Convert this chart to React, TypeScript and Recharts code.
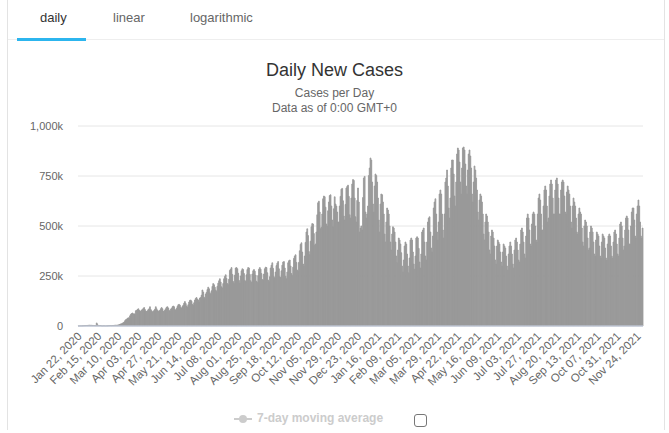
import { BarChart, Bar, XAxis, YAxis, CartesianGrid } from 'recharts'

// daily new cases in thousands, Jan 22 2020 - Dec 31 2020 (one row per week, starting Wednesday)
const cases2020 = [
  0.6, 0.3, 0.7, 0.6, 0.7, 0.8, 1.3,
  1.8, 1.8, 2.1, 2.6, 2.8, 3.2, 3.9,
  3.7, 3.2, 3.4, 2.7, 2.6, 2.4, 2.0,
  2.0, 15.1, 6.5, 2.1, 2.1, 2.0, 1.9,
  0.5, 0.6, 1.0, 0.8, 0.6, 0.6, 0.9,
  1.0, 1.4, 1.6, 1.9, 2.3, 1.8, 2.5,
  2.3, 2.8, 4.0, 3.9, 3.7, 4.5, 4.7,
  7.2, 7.7, 10.5, 11.0, 13.9, 16.4, 19.8,
  26.3, 31.3, 33.6, 38.1, 40.8, 40.0, 50.7,
  58, 62, 65, 60, 61, 58, 76,
  78, 82, 86, 79, 74, 74, 80,
  82, 88, 92, 82, 74, 72, 76,
  82, 86, 96, 82, 76, 70, 74,
  78, 84, 96, 86, 78, 72, 76,
  78, 86, 92, 86, 74, 72, 80,
  86, 94, 96, 90, 78, 74, 84,
  88, 96, 100, 96, 82, 80, 88,
  98, 106, 108, 104, 92, 90, 98,
  104, 114, 122, 112, 100, 94, 106,
  120, 128, 130, 124, 108, 104, 116,
  130, 138, 142, 134, 130, 120, 140,
  142, 154, 180, 170, 144, 138, 160,
  168, 182, 194, 186, 166, 160, 176,
  198, 212, 206, 194, 180, 172, 198,
  214, 226, 236, 220, 196, 190, 212,
  236, 248, 256, 238, 212, 206, 234,
  278, 284, 292, 258, 222, 212, 254,
  290, 292, 286, 264, 228, 214, 250,
  276, 286, 282, 262, 228, 222, 256,
  282, 292, 290, 258, 226, 218, 260,
  276, 282, 274, 254, 224, 218, 252,
  284, 292, 284, 262, 232, 230, 260,
  286, 294, 292, 266, 230, 222, 246,
  290, 304, 316, 288, 246, 240, 270,
  302, 314, 322, 286, 246, 242, 276,
  304, 320, 322, 290, 248, 236, 270,
  316, 326, 330, 300, 262, 252, 294,
  338, 350, 356, 318, 280, 272, 318,
  376, 408, 416, 370, 310, 298, 350,
  418, 470, 486, 452, 372, 356, 424,
  496, 512, 510, 462, 404, 410, 470,
  556, 616, 624, 570, 486, 494, 560,
  636, 650, 646, 594, 510, 500, 576,
  620, 652, 656, 600, 530, 496, 586,
  646, 610, 600, 570, 520, 520, 600,
  648, 684, 688, 626, 550, 530, 608,
  690, 698, 704, 648, 556, 540, 640,
  710, 732, 728, 640, 546, 520, 628,
  690, 620, 470, 490, 500, 480, 642,
  740, 748,
]

// Jan 01 2021 - Nov 30 2021
const cases2021 = [
  570, 540, 560, 600, 752,
  790, 840, 830, 720, 610, 570, 700,
  760, 752, 720, 640, 530, 470, 610,
  660, 656, 620, 560, 460, 420, 520,
  590, 580, 560, 500, 420, 380, 460,
  496, 490, 470, 420, 350, 316, 380,
  440, 430, 410, 366, 300, 270, 330,
  400, 420, 410, 360, 300, 266, 340,
  430, 440, 430, 370, 310, 284, 350,
  440, 446, 440, 388, 320, 290, 360,
  470, 480, 490, 420, 350, 330, 420,
  520, 540, 546, 470, 390, 370, 450,
  590, 620, 636, 560, 470, 430, 520,
  660, 680, 660, 560, 480, 440, 560,
  720, 740, 780, 700, 590, 540, 640,
  790, 830, 830, 760, 650, 600, 720,
  860, 890, 880, 820, 720, 660, 790,
  890, 895, 880, 810, 700, 660, 780,
  860, 880, 850, 790, 660, 620, 720,
  800, 780, 740, 680, 570, 530, 630,
  660, 650, 620, 560, 460, 430, 520,
  560, 550, 520, 470, 380, 360, 450,
  480, 470, 440, 400, 330, 310, 400,
  430, 420, 410, 370, 320, 300, 370,
  410, 400, 390, 350, 300, 280, 360,
  400, 420, 400, 360, 310, 290, 380,
  430, 440, 420, 380, 330, 320, 410,
  480, 490, 470, 420, 360, 340, 450,
  540, 560, 540, 480, 410, 400, 510,
  560, 570, 560, 500, 430, 420, 560,
  640, 660, 630, 560, 480, 480, 600,
  680, 700, 680, 600, 520, 540, 650,
  710, 730, 710, 640, 560, 560, 680,
  730, 740, 710, 640, 560, 560, 680,
  720, 730, 720, 650, 570, 560, 670,
  700, 680, 660, 600, 520, 490, 600,
  640, 620, 600, 540, 470, 460, 560,
  590, 570, 560, 490, 420, 400, 500,
  530, 520, 500, 440, 380, 390, 470,
  500, 490, 470, 420, 360, 350, 430,
  470, 460, 450, 400, 350, 340, 420,
  460, 450, 440, 390, 340, 330, 410,
  450, 460, 450, 400, 350, 340, 420,
  470, 480, 460, 410, 360, 350, 440,
  510, 520, 500, 440, 380, 400, 480,
  540, 550, 540, 480, 410, 410, 500,
  570, 590, 590, 530, 450, 440, 560,
  600, 630, 600, 520, 450, 440, 490,
]

const yTicks = [0, 250, 500, 750, 1000]
const tabs = ['daily', 'linear', 'logarithmic']
const months = ['Jan', 'Feb', 'Mar', 'Apr', 'May', 'Jun', 'Jul', 'Aug', 'Sep', 'Oct', 'Nov', 'Dec']

const firstDay = Date.UTC(2020, 0, 22)
const dailyCases = [...cases2020, ...cases2021]

const chartData = dailyCases.map((cases, i) => {
  const d = new Date(firstDay + i * 86400000)
  const day = String(d.getUTCDate()).padStart(2, '0')
  return { date: `${months[d.getUTCMonth()]} ${day}, ${d.getUTCFullYear()}`, cases }
})

const font = '"Liberation Sans", Arial, sans-serif'

function DateTick({ x, y, payload }: any) {
  return (
    <g transform={`translate(${x + 4},${y + 11}) rotate(-45)`}>
      <text x={0} y={0} textAnchor="end" fontSize={11.5} fill="#666" fontFamily={font}>
        {payload.value}
      </text>
    </g>
  )
}

const formatY = (v: number) => (v === 0 ? '0' : `${v.toLocaleString('en-US')}k`)

export default function App() {
  return (
    <div style={{ position: 'absolute', left: 0, top: 0, width: 669, height: 433, background: '#fff', fontFamily: font, overflow: 'hidden' }}>
      {/* frame */}
      <div style={{ position: 'absolute', left: 7, top: 0, width: 1, height: 430, background: '#e3e3e3' }} />
      <div style={{ position: 'absolute', left: 664, top: 0, width: 1, height: 430, background: '#e3e3e3' }} />

      {/* tabs */}
      <div style={{ position: 'absolute', left: 8, top: 39, width: 656, height: 1, background: '#eee' }} />
      <div style={{ position: 'absolute', left: 17, top: 38, width: 69, height: 3, background: '#2cb5ee' }} />
      {tabs.map((t, i) => (
        <div
          key={t}
          style={{
            position: 'absolute',
            left: [40, 113, 190][i],
            top: 10,
            fontSize: 13,
            color: i === 0 ? '#333' : '#666',
          }}
        >
          {t}
        </div>
      ))}

      {/* titles */}
      <div style={{ position: 'absolute', left: 0, width: 669, top: 60, textAlign: 'center', fontSize: 18, color: '#333' }}>
        Daily New Cases
      </div>
      <div style={{ position: 'absolute', left: 0, width: 669, top: 86, textAlign: 'center', fontSize: 12, color: '#666', lineHeight: '15px' }}>
        Cases per Day
        <br />
        Data as of 0:00 GMT+0
      </div>

      <div style={{ position: 'absolute', left: 0, top: 0 }}>
        <BarChart
          width={669}
          height={433}
          data={chartData}
          barCategoryGap={0}
          margin={{ top: 126, right: 26, bottom: 27, left: 8 }}
        >
          <CartesianGrid vertical={false} stroke="#e6e6e6" />
          <XAxis
            dataKey="date"
            interval={23}
            tickLine={false}
            tickSize={0}
            tickMargin={0}
            axisLine={{ stroke: '#ccd6eb' }}
            height={80}
            tick={<DateTick />}
          />
          <YAxis
            domain={[0, 1000]}
            ticks={yTicks}
            tickFormatter={formatY}
            axisLine={false}
            tickLine={false}
            tickSize={0}
            tickMargin={15}
            width={70}
            tick={{ fontSize: 11, fill: '#666', fontFamily: font }}
          />
          <Bar dataKey="cases" fill="#999" stroke="#999" strokeWidth={0.8} isAnimationActive={false} />
        </BarChart>
      </div>

      {/* legend */}
      <svg style={{ position: 'absolute', left: 234, top: 412 }} width={18} height={14}>
        <line x1={0} y1={7} x2={18} y2={7} stroke="#ccc" strokeWidth={2} />
        <circle cx={9} cy={7} r={4} fill="#ccc" />
      </svg>
      <div style={{ position: 'absolute', left: 257, top: 411, fontSize: 12, fontWeight: 'bold', color: '#ccc' }}>
        7-day moving average
      </div>
      <div
        style={{
          position: 'absolute',
          left: 414,
          top: 414,
          width: 11,
          height: 11,
          border: '1.5px solid #777',
          borderRadius: 3,
        }}
      />
    </div>
  )
}
